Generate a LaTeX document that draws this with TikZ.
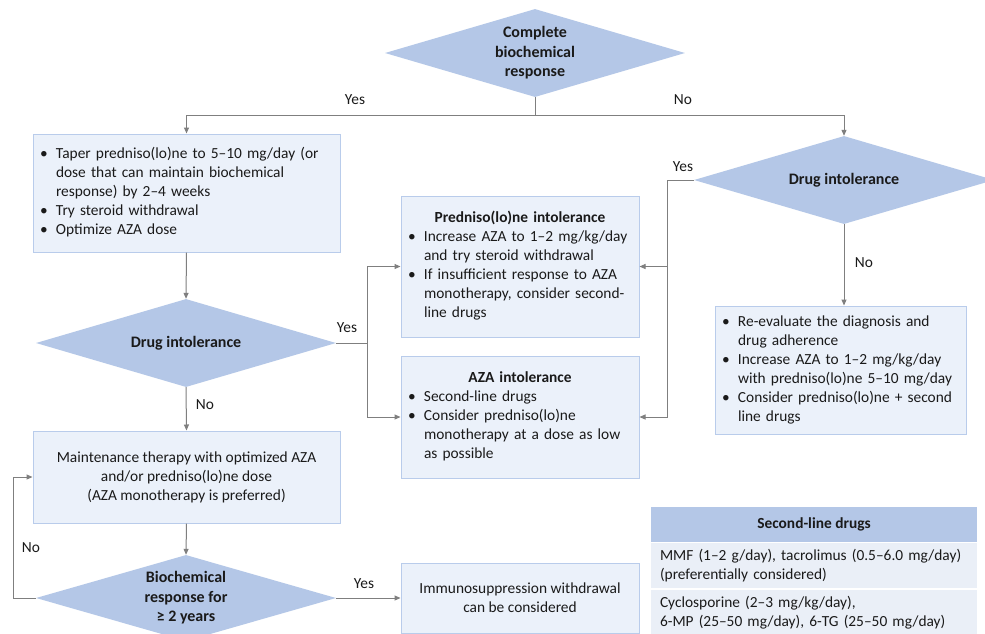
\documentclass[tikz,border=0pt]{standalone}
\usepackage{fontspec}
\setmainfont{Carlito}
\usetikzlibrary{shapes.geometric,arrows.meta}
\definecolor{dfill}{HTML}{B4C7E7}
\definecolor{bfill}{HTML}{EBF1FA}
\definecolor{bdraw}{HTML}{B9CCEB}
\definecolor{lgray}{HTML}{7F7F7F}
\definecolor{rowfill}{HTML}{EAEFF7}
\definecolor{txt}{HTML}{1A1A1A}
\newcommand{\blist}[2]{\begin{tabular}{@{}p{16pt}@{}p{#1}@{}}#2\end{tabular}}
\newcommand{\bu}{\textbullet}
\begin{document}
\begin{tikzpicture}[x=1pt,y=-1pt,
  every node/.style={text=txt, font=\fontsize{15.4}{19}\selectfont},
  dia/.style={diamond, fill=dfill, draw=none, inner sep=0pt, minimum width=300pt, minimum height=88pt, aspect=3.4, align=center, font=\bfseries\fontsize{16}{19.5}\selectfont},
  box/.style={rectangle, fill=bfill, draw=bdraw, line width=1pt, inner sep=0pt, align=center},
  lbox/.style={box, align=left, inner xsep=7pt},
  conn/.style={draw=lgray, line width=1pt},
  arr/.style={conn, -{Triangle[length=6pt,width=5pt]}},
  lab/.style={inner sep=0pt, anchor=center}]
\useasboundingbox (0,0) rectangle (985,633);
\fill[white] (0,0) rectangle (985,633);
\clip (0,0) rectangle (985,633);

% diamonds
\node[dia] (top) at (535,53) {Complete\\biochemical\\response};
\node[dia] (rdia) at (844,180) {Drug intolerance};
\node[dia] (ldia) at (186,343) {Drug intolerance};
\node[dia, minimum height=86pt] (bdia) at (186,598) {Biochemical\\response for\\≥ 2 years};

% boxes
\node[lbox, minimum width=307pt, minimum height=118pt, text width=293pt] (box1) at (186.5,193)
  {\blist{277pt}{\bu & Taper predniso(lo)ne to 5–10 mg/day (or\\ & dose that can maintain biochemical\\ & response) by 2–4 weeks\\ \bu & Try steroid withdrawal\\ \bu & Optimize AZA dose}};
\node[lbox, minimum width=238pt, minimum height=141pt, text width=224pt] (pred) at (520,266.5)
  {\blist{208pt}{\multicolumn{2}{c}{\textbf{Predniso(lo)ne intolerance}}\\ \bu & Increase AZA to 1–2 mg/kg/day\\ & and try steroid withdrawal\\ \bu & If insufficient response to AZA\\ & monotherapy, consider second-\\ & line drugs}};
\node[lbox, minimum width=238pt, minimum height=122pt, text width=224pt] (aza) at (520,417)
  {\blist{208pt}{\multicolumn{2}{c}{\textbf{AZA intolerance}}\\ \bu & Second-line drugs\\ \bu & Consider predniso(lo)ne\\ & monotherapy at a dose as low\\ & as possible}};
\node[lbox, minimum width=251pt, minimum height=128pt, text width=237pt] (rbox) at (840.5,370)
  {\blist{221pt}{\bu & Re-evaluate the diagnosis and\\ & drug adherence\\ \bu & Increase AZA to 1–2 mg/kg/day\\ & with predniso(lo)ne 5–10 mg/day\\ \bu & Consider predniso(lo)ne + second\\ & line drugs}};
\node[box, minimum width=307pt, minimum height=92pt] (maint) at (186.5,477)
  {Maintenance therapy with optimized AZA\\and/or predniso(lo)ne dose\\(AZA monotherapy is preferred)};
\node[box, minimum width=238pt, minimum height=70pt] (immu) at (520,598)
  {Immunosuppression withdrawal\\can be considered};

% table
\node[fill=dfill, minimum width=326pt, minimum height=35pt, inner sep=0pt, font=\bfseries\fontsize{15.4}{19}\selectfont] (thead) at (814,524.5) {Second-line drugs};
\node[fill=rowfill, minimum width=326pt, minimum height=45pt, inner xsep=9pt, inner ysep=0pt, text width=308pt, align=left] (row1) at (814,565.5)
  {MMF (1–2 g/day), tacrolimus (0.5–6.0 mg/day)\\(preferentially considered)};
\node[fill=rowfill, minimum width=326pt, minimum height=45pt, inner xsep=9pt, inner ysep=0pt, text width=308pt, align=left] (row2) at (814,612.5)
  {Cyclosporine (2–3 mg/kg/day),\\6-MP (25–50 mg/day), 6-TG (25–50 mg/day)};

% connectors
\coordinate (split) at (535,115);
\draw[conn] (top.south) -- (split);
\draw[arr] (split) -| (box1.north);
\draw[arr] (split) -| (rdia.north);
\node[lab] (yes1) at (355,100) {Yes};
\node[lab] (no1) at (683,100) {No};

\draw[arr] (box1.south) -- (ldia.north);

\coordinate (jL) at (367,343);
\draw[conn] (ldia.east) -- (jL);
\draw[arr] (jL) |- (pred.west);
\draw[arr] (jL) |- (aza.west);
\node[lab] (yes2) at (347,328) {Yes};

\coordinate (jR) at (667,180);
\draw[conn] (rdia.west) -- (jR);
\draw[arr] (jR) |- (pred.east);
\draw[arr] (jR) |- (aza.east);
\node[lab] (yes3) at (683,167) {Yes};

\draw[arr] (rdia.south) -- (rdia.south |- rbox.north);
\node[lab] (no2) at (864,263) {No};

\draw[arr] (ldia.south) -- (maint.north);
\node[lab] (no3) at (205,405) {No};

\draw[arr] (maint.south) -- (bdia.north);

\coordinate (jB) at (13,598);
\draw[conn] (bdia.west) -- (jB);
\draw[arr] (jB) |- (maint.west);
\node[lab] (no4) at (31,548) {No};

\draw[arr] (bdia.east) -- (immu.west);
\node[lab] (yes4) at (364,584) {Yes};
\end{tikzpicture}
\end{document}
